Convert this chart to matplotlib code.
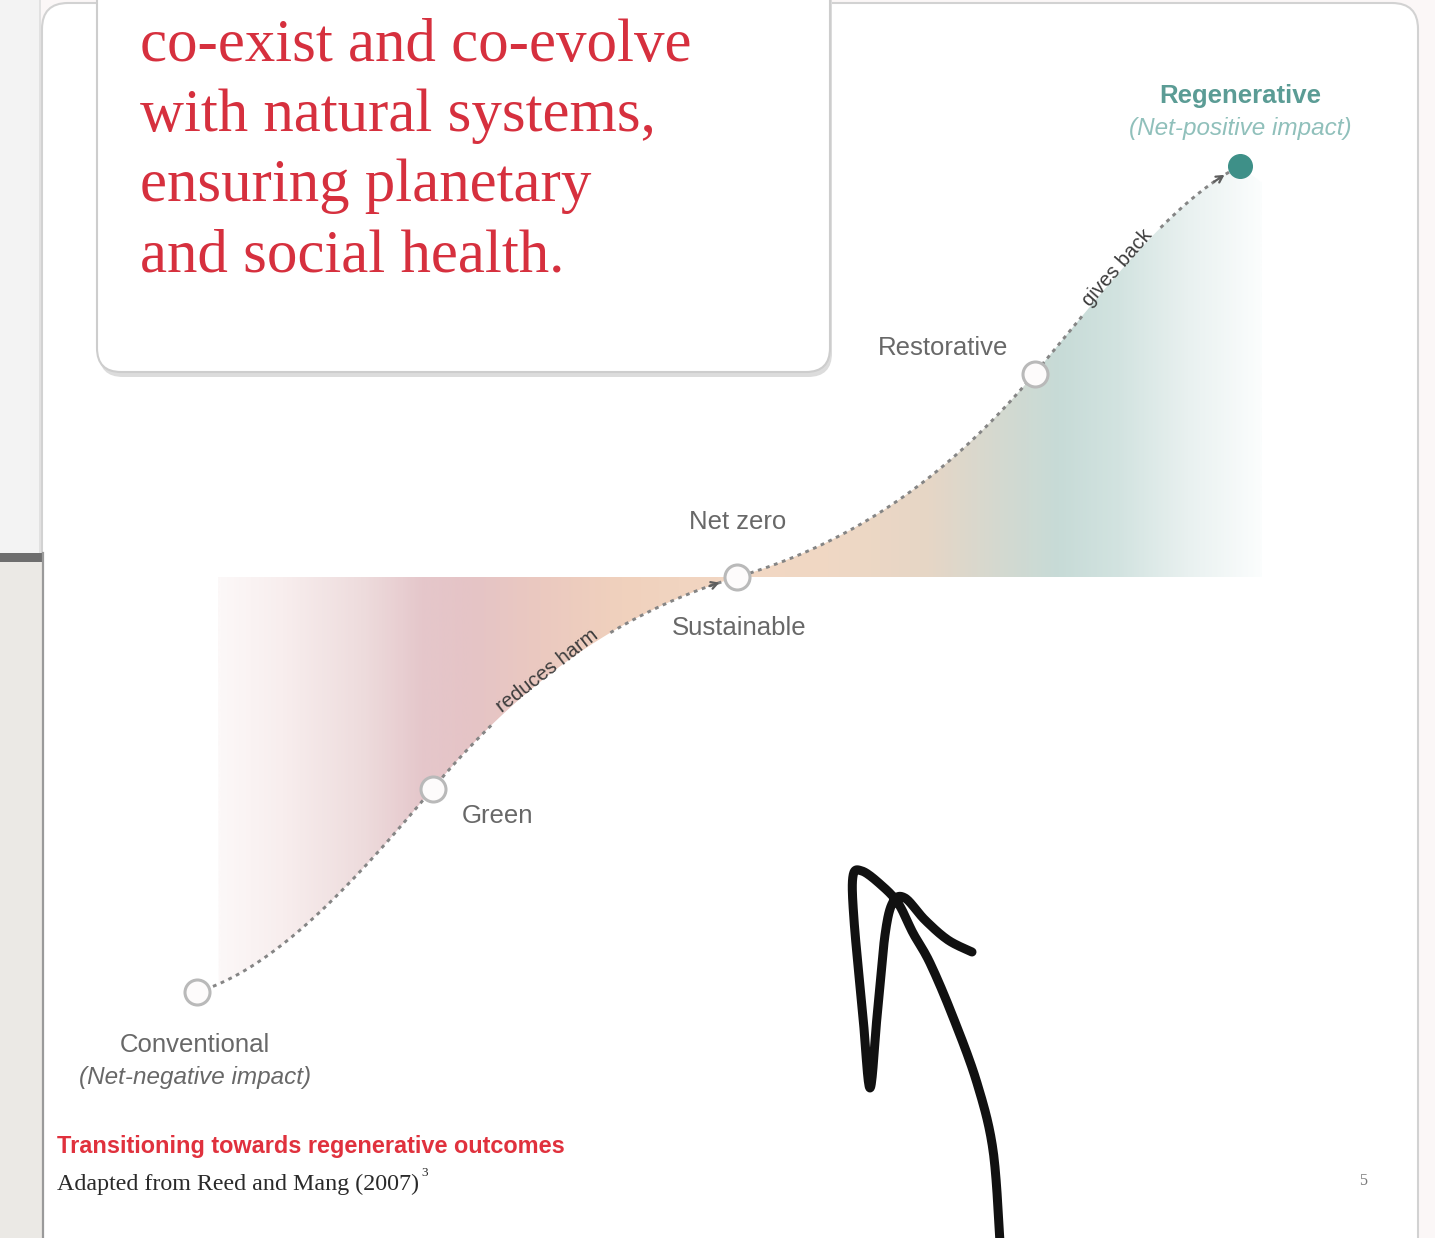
import numpy as np
import matplotlib
matplotlib.use('Agg')
import matplotlib.pyplot as plt
from matplotlib.patches import FancyBboxPatch, Rectangle, Polygon
from matplotlib.colors import LinearSegmentedColormap

# ---------------- data ----------------
stages = ['Conventional', 'Green', 'Sustainable', 'Restorative', 'Regenerative']
progress = [0.0, 0.226, 0.518, 0.803, 1.0]
impact = [-1.0, -0.51, 0.0, 0.49, 0.99]
tangent = [0.75, 3.0, 0.75, 3.0, 1.26]
stage_notes = ['(Net-negative impact)', '', '', '', '(Net-positive impact)']
net_zero_label = 'Net zero'
path_labels = ['reduces harm', 'gives back']
path_label_at = [0.338, 0.885]
headline_lines = ['co-exist and co-evolve', 'with natural systems,',
                  'ensuring planetary', 'and social health.']
caption_title = 'Transitioning towards regenerative outcomes'
caption_source = 'Adapted from Reed and Mang (2007)'
caption_ref = '3'
page_number = '5'

# ---------------- layout ----------------
W, H, DPI = 1435, 1238, 100
PX0, PX_PER = 197.0, 1043.0   # pixel of progress 0, pixels per progress unit
PY0, PY_PER = 577.0, 415.0    # pixel of impact 0, pixels per impact unit
SANS = ['Liberation Sans', 'DejaVu Sans']
SERIF = ['Liberation Serif', 'DejaVu Serif']


def hermite(xs, ys, ms, n=120):
    X, Y = [], []
    for i in range(len(xs) - 1):
        x0, x1, y0, y1 = xs[i], xs[i + 1], ys[i], ys[i + 1]
        h = x1 - x0
        t = np.linspace(0, 1, n, endpoint=(i == len(xs) - 2))
        h00 = 2 * t**3 - 3 * t**2 + 1
        h10 = t**3 - 2 * t**2 + t
        h01 = -2 * t**3 + 3 * t**2
        h11 = t**3 - t**2
        X.append(x0 + h * t)
        Y.append(h00 * y0 + h10 * h * ms[i] + h01 * y1 + h11 * h * ms[i + 1])
    return np.concatenate(X), np.concatenate(Y)


def catmull(pts, n=20):
    P = np.array(pts, float)
    P = np.vstack([P[0], P, P[-1]])
    out = []
    for i in range(1, len(P) - 2):
        p0, p1, p2, p3 = P[i - 1], P[i], P[i + 1], P[i + 2]
        t = np.linspace(0, 1, n, endpoint=False)[:, None]
        out.append(0.5 * ((2 * p1) + (-p0 + p2) * t + (2 * p0 - 5 * p1 + 4 * p2 - p3) * t**2
                          + (-p0 + 3 * p1 - 3 * p2 + p3) * t**3))
    out.append(P[-2][None])
    return np.vstack(out)


fig = plt.figure(figsize=(W / DPI, H / DPI), dpi=DPI, facecolor='#fbf7f7')

# ---------------- background (pixel coords) ----------------
bg = fig.add_axes([0, 0, 1, 1])
bg.set_xlim(0, W)
bg.set_ylim(H, 0)
bg.axis('off')

bg.add_patch(FancyBboxPatch((42, 3), 1376, 1270, boxstyle='round,pad=0,rounding_size=26',
                            fc='white', ec='#d2d2d2', lw=1.5, zorder=1))
bg.add_patch(Rectangle((0, 0), 40, 553, fc='#f3f3f3', ec='none', zorder=2))
bg.plot([40, 40], [0, 553], color='#dedede', lw=1.2, zorder=3)
bg.add_patch(Rectangle((0, 553), 43, 9, fc='#6e6e6e', ec='none', zorder=3))
bg.add_patch(Rectangle((0, 562), 42, 700, fc='#ebe9e5', ec='none', zorder=2))
bg.plot([42.5, 42.5], [553, 1238], color='#9a9a9a', lw=1.6, zorder=3)

# text box with shadow
bg.add_patch(FancyBboxPatch((99, -60), 733, 437, boxstyle='round,pad=0,rounding_size=24',
                            fc='#dcdcdc', ec='none', zorder=3))
bg.add_patch(FancyBboxPatch((97, -60), 733, 432, boxstyle='round,pad=0,rounding_size=24',
                            fc='white', ec='#cdcdcd', lw=1.5, zorder=4))
for i, line in enumerate(headline_lines):
    bg.text(140, 61 + 70 * i, line, family=SERIF, fontsize=43.8, color='#d6303e',
            ha='left', va='baseline', zorder=5)

bg.text(57, 1146, caption_title, family=SANS, fontsize=16.9, fontweight='bold',
        color='#e0313d', ha='left', va='center', zorder=5)
t_src = bg.text(57, 1184, caption_source, family=SERIF, fontsize=17.3, color='#2a2a2a',
                ha='left', va='center', zorder=5)
fig.canvas.draw()
src_end = bg.transData.inverted().transform(
    t_src.get_window_extent(fig.canvas.get_renderer()))[1][0]
bg.text(src_end + 2, 1173, caption_ref, family=SERIF, fontsize=9.5, color='#2a2a2a',
        ha='left', va='center', zorder=5)
bg.text(1363, 1181, page_number, family=SERIF, fontsize=11.5, color='#7a7a7a',
        ha='center', va='center', zorder=5)

# ---------------- chart (data coords) ----------------
ax = fig.add_axes([0, 0, 1, 1])
ax.axis('off')
xlim = (-PX0 / PX_PER, (W - PX0) / PX_PER)
ylim = (-(H - PY0) / PY_PER, PY0 / PY_PER)

cx, cy = hermite(progress, impact, tangent)

# gradient fill between curve and the net-zero line
fill_x0 = (218 - PX0) / PX_PER
fill_x1 = (1262 - PX0) / PX_PER
xs_mid = progress[2]
m1 = (cx >= fill_x0) & (cx <= xs_mid)
left_poly = np.column_stack([np.r_[cx[m1], xs_mid, fill_x0], np.r_[cy[m1], 0, 0]])
m2 = cx >= xs_mid
right_poly = np.column_stack([np.r_[cx[m2], fill_x1, fill_x1, xs_mid],
                              np.r_[cy[m2], cy[-1] - 0.04, 0, 0]])

stops = [(218, '#fcf8f8'), (280, '#f8eeee'), (360, '#eedcdd'), (420, '#e5c7cb'),
         (470, '#e5c4c6'), (540, '#ebc9c0'), (620, '#f0d1bd'), (737, '#f2d7c3'),
         (830, '#f0d8c4'), (930, '#e6d6c6'), (1000, '#d4d9d0'), (1060, '#c7dbd7'),
         (1120, '#d2e3e0'), (1190, '#e9f1f0'), (1262, '#fbfdfd')]
pos = [(p - 218) / (1262 - 218) for p, _ in stops]
cmap = LinearSegmentedColormap.from_list('grad', list(zip(pos, [c for _, c in stops])))
grad = np.linspace(0, 1, 600)[None, :].repeat(2, axis=0)
for poly in (left_poly, right_poly):
    patch = Polygon(poly, closed=True, fc='none', ec='none')
    ax.add_patch(patch)
    im = ax.imshow(grad, cmap=cmap, extent=[fill_x0, fill_x1, -1.05, 1.05],
                   aspect='auto', interpolation='bicubic', zorder=1)
    im.set_clip_path(patch)

ax.set_xlim(*xlim)
ax.set_ylim(*ylim)

# display coords of curve to place arrows / labels
disp = ax.transData.transform(np.column_stack([cx, cy]))

# path labels and gaps in the dotted line
line_y = cy.copy()
for lab, at, half in zip(path_labels, path_label_at, [72, 56]):
    k = np.argmin(np.abs(cx - at))
    d = disp[min(k + 3, len(cx) - 1)] - disp[max(k - 3, 0)]
    ang = np.degrees(np.arctan2(d[1], d[0]))
    dist = np.hypot(*(disp - disp[k]).T)
    line_y[dist < half] = np.nan
    nrm = np.array([-d[1], d[0]]) / np.hypot(*d)
    ax.annotate(lab, xy=(cx[k], cy[k]), xytext=(nrm[0] * 3, nrm[1] * 3),
                textcoords='offset points', rotation=ang, rotation_mode='anchor',
                ha='center', va='center', family=SANS, fontsize=14.5,
                color='#3c3c3c', zorder=6)

ax.plot(cx, line_y, color='#858585', lw=2.1, linestyle=(0, (1.3, 1.6)), zorder=3)


def arrow_into(idx_stage, gap, length):
    cxy = np.array(ax.transData.transform((progress[idx_stage], impact[idx_stage])))
    dist = np.hypot(*(disp - cxy).T)
    before = cx < progress[idx_stage]
    i_end = np.where(before & (dist >= gap))[0][-1]
    i_start = np.where(before & (dist >= gap + length))[0][-1]
    ax.annotate('', xy=(cx[i_end], cy[i_end]), xytext=(cx[i_start], cy[i_start]),
                arrowprops=dict(arrowstyle='->,head_length=0.45,head_width=0.25',
                                color='#5e5e5e', lw=1.6, shrinkA=0, shrinkB=0), zorder=4)


arrow_into(2, 16, 12)
arrow_into(4, 17, 12)

# stage markers
ax.plot(progress[:4], impact[:4], 'o', ms=18, mfc='#fdfbfb', mec='#b9b9b9', mew=2.2,
        zorder=5, linestyle='none')
ax.plot(progress[4], impact[4], 'o', ms=17, color='#3e9088', zorder=5)

# stage labels
lab_kw = dict(textcoords='offset points', family=SANS, fontsize=18.5, color='#686868',
              zorder=6, va='center')
ax.annotate(stages[0], (progress[0], impact[0]), xytext=(-1.5, -38), ha='center', **lab_kw)
ax.annotate(stage_notes[0], (progress[0], impact[0]), xytext=(-1.5, -61.5), ha='center',
            style='italic', **{**lab_kw, 'fontsize': 17.5})
ax.annotate(stages[1], (progress[1], impact[1]), xytext=(21, -19.5), ha='left', **lab_kw)
ax.annotate(stages[2], (progress[2], impact[2]), xytext=(1, -37), ha='center', **lab_kw)
ax.annotate(net_zero_label, (progress[2], impact[2]), xytext=(0, 39.5), ha='center', **lab_kw)
ax.annotate(stages[3], (progress[3], impact[3]), xytext=(-66, 18.5), ha='center', **lab_kw)
ax.annotate(stages[4], (progress[4], impact[4]), xytext=(0, 50.5), ha='center',
            fontweight='bold', **{**lab_kw, 'color': '#5b9c95'})
ax.annotate(stage_notes[4], (progress[4], impact[4]), xytext=(0, 27), ha='center',
            style='italic', **{**lab_kw, 'color': '#90c0bb', 'fontsize': 17.5})

# ---------------- hand-drawn arrow overlay (pixel coords) ----------------
fg = fig.add_axes([0, 0, 1, 1])
fg.set_xlim(0, W)
fg.set_ylim(H, 0)
fg.axis('off')
hand = [(1000, 1242), (993, 1150), (977, 1083), (953, 1017), (930, 963), (913, 933),
        (898, 903), (880, 884), (862, 871), (853, 876), (854, 920), (863, 1017),
        (870, 1088), (877, 1017), (885, 935), (893, 902), (905, 898), (925, 920),
        (948, 940), (972, 952)]
hp = catmull(hand, 16)
fg.plot(hp[:, 0], hp[:, 1], color='#111111', lw=6.5, solid_capstyle='round',
        solid_joinstyle='round', zorder=10)

fig.savefig('out.png', dpi=DPI, facecolor=fig.get_facecolor())
